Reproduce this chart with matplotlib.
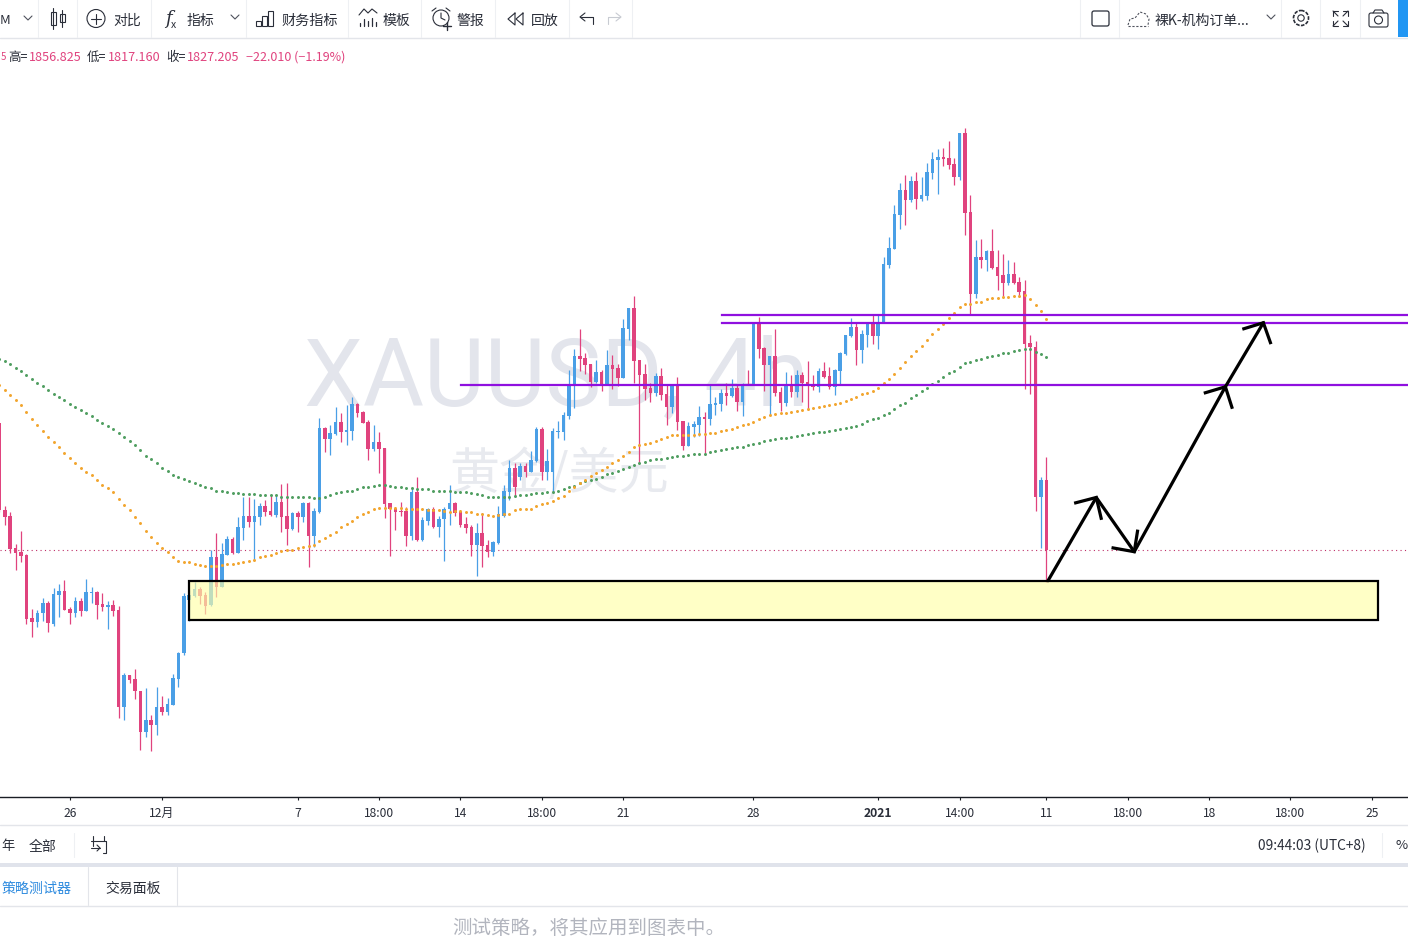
import matplotlib
matplotlib.use("Agg")
import matplotlib.pyplot as plt
from matplotlib.patches import Rectangle, Circle, FancyBboxPatch
import numpy as np

plt.rcParams['font.family'] = ['Noto Sans CJK SC', 'DejaVu Sans']

# XAUUSD 4h candles
opens = [
    1867.5,1839.9,1838.0,1827.8,1826.6,1825.6,1805.6,1804.4,1807.2,1810.4,
    1803.7,1812.9,1814.2,1808.5,1807.2,1811.0,1807.9,1813.6,1813.9,1810.1,
    1809.1,1809.7,1808.2,1777.4,1787.5,1786.3,1782.5,1769.5,1773.3,1771.7,
    1777.4,1775.8,1778.0,1786.3,1794.5,1811.3,1812.6,1814.8,1812.9,1809.7,
    1825.0,1815.5,1825.6,1830.7,1826.2,1834.2,1838.0,1836.1,1837.7,1841.2,
    1839.6,1838.3,1842.4,1838.0,1833.9,1838.9,1837.7,1842.1,1831.6,1839.3,
    1865.9,1862.4,1864.0,1867.8,1864.6,1865.0,1873.5,1871.0,1867.8,1859.2,
    1861.5,1859.6,1842.1,1840.2,1839.6,1839.6,1831.6,1845.6,1830.4,1836.4,
    1840.2,1834.5,1837.0,1840.2,1842.1,1839.3,1835.4,1834.5,1828.8,1832.6,
    1828.8,1826.6,1829.4,1838.0,1845.6,1853.2,1850.4,1853.9,1852.0,1855.4,
    1865.6,1852.0,1852.0,1864.6,1864.6,1869.7,1879.6,1888.8,1888.1,1886.2,
    1880.5,1883.7,1879.6,1885.9,1884.9,1881.8,1897.3,1904.0,1887.5,1883.0,
    1878.6,1877.0,1882.4,1876.7,1872.6,1879.6,1868.1,1860.2,1866.2,1866.9,
    1869.4,1868.8,1873.2,1873.5,1877.0,1876.1,1878.6,1874.2,1879.9,1879.6,
    1899.2,1891.3,1885.9,1888.8,1877.3,1873.8,1879.2,1877.3,1882.7,1880.5,
    1879.9,1878.9,1884.0,1882.4,1878.9,1884.0,1889.4,1895.1,1898.0,1890.7,
    1895.4,1899.2,1895.1,1899.2,1917.6,1922.7,1933.5,1941.4,1938.3,1944.3,
    1938.6,1939.5,1946.8,1951.0,1951.9,1951.6,1949.7,1945.6,1959.5,1934.4,
    1908.4,1920.2,1919.2,1922.1,1917.0,1914.4,1911.9,1914.8,1912.2,1909.4,
    1892.9,1891.6,1844.0,1849.4]
highs = [
    1867.5,1841.2,1839.3,1829.1,1833.2,1825.9,1808.5,1808.2,1812.0,1811.0,
    1815.1,1816.4,1817.7,1809.1,1812.3,1812.0,1818.0,1815.5,1814.2,1813.6,
    1811.0,1811.3,1809.4,1788.2,1787.5,1789.4,1782.5,1783.4,1774.8,1783.7,
    1780.9,1780.2,1787.8,1794.8,1813.6,1814.5,1817.1,1815.5,1813.9,1827.2,
    1832.6,1829.4,1831.6,1831.3,1837.7,1844.0,1844.0,1843.4,1842.1,1843.1,
    1844.6,1844.6,1848.1,1848.5,1839.3,1839.6,1842.4,1842.4,1840.5,1869.1,
    1866.2,1866.9,1872.6,1870.7,1873.2,1875.7,1873.8,1871.3,1868.4,1866.9,
    1864.6,1859.6,1842.1,1840.8,1842.4,1840.8,1846.9,1850.4,1837.7,1840.5,
    1840.8,1838.0,1840.8,1847.8,1842.4,1839.9,1837.7,1835.1,1835.8,1838.9,
    1830.4,1830.1,1841.2,1847.8,1855.8,1854.8,1854.8,1854.8,1858.6,1866.2,
    1866.2,1859.2,1865.9,1868.1,1871.0,1884.3,1891.0,1897.3,1889.7,1886.2,
    1887.5,1884.3,1890.7,1889.1,1886.2,1900.5,1904.0,1907.8,1887.5,1886.2,
    1880.2,1883.4,1884.9,1879.6,1879.6,1882.1,1868.1,1867.8,1868.1,1872.9,
    1871.0,1879.6,1875.7,1878.3,1880.2,1881.5,1879.6,1880.2,1884.3,1899.5,
    1901.1,1891.6,1888.8,1897.3,1878.9,1883.7,1882.7,1884.3,1883.7,1887.2,
    1882.7,1885.0,1886.9,1885.3,1884.6,1890.0,1895.4,1900.8,1899.2,1897.0,
    1899.5,1901.8,1901.8,1920.2,1926.5,1936.7,1943.6,1946.2,1945.9,1947.2,
    1945.6,1950.0,1953.5,1954.4,1954.7,1957.0,1951.6,1959.5,1961.1,1939.8,
    1925.6,1925.9,1922.4,1929.0,1922.4,1921.1,1919.2,1918.6,1913.8,1912.9,
    1895.4,1893.5,1850.4,1856.825]
lows = [
    1839.3,1835.1,1826.2,1820.9,1823.4,1803.7,1799.6,1802.8,1804.7,1801.2,
    1803.1,1806.0,1808.2,1803.7,1806.0,1806.3,1807.9,1810.4,1805.3,1807.9,
    1802.1,1806.3,1773.9,1773.3,1785.0,1779.9,1763.7,1767.9,1763.4,1768.5,
    1774.8,1774.8,1778.0,1783.7,1793.9,1804.7,1812.3,1810.1,1806.9,1809.4,
    1812.3,1815.5,1825.6,1825.9,1826.2,1830.4,1834.5,1824.0,1835.1,1838.0,
    1838.0,1837.7,1832.9,1828.8,1833.5,1832.9,1836.1,1821.8,1828.2,1838.9,
    1858.3,1857.3,1863.7,1861.5,1860.5,1862.1,1869.4,1867.5,1855.8,1858.6,
    1851.6,1837.4,1825.3,1833.5,1838.0,1828.5,1830.4,1830.1,1830.1,1835.1,
    1834.2,1831.3,1823.7,1835.1,1838.0,1834.5,1832.6,1825.3,1819.0,1821.8,
    1825.0,1825.3,1829.1,1837.7,1843.1,1844.0,1849.4,1850.4,1852.0,1855.1,
    1849.4,1849.4,1845.3,1862.7,1862.1,1868.8,1872.3,1884.0,1883.0,1878.9,
    1880.2,1877.7,1879.6,1878.3,1879.2,1881.8,1893.8,1880.2,1854.8,1874.8,
    1874.2,1876.1,1874.8,1866.9,1870.7,1865.3,1858.9,1860.2,1863.1,1863.4,
    1857.3,1866.9,1870.0,1871.3,1873.2,1875.8,1871.3,1869.7,1879.6,1879.6,
    1888.1,1877.7,1870.0,1876.1,1871.3,1872.9,1875.8,1875.8,1874.2,1871.6,
    1878.0,1877.3,1881.8,1878.3,1876.4,1879.6,1889.1,1894.8,1885.9,1886.5,
    1891.6,1892.6,1891.0,1899.2,1916.7,1922.7,1929.0,1930.3,1937.6,1935.4,
    1937.9,1938.3,1944.9,1940.2,1949.0,1948.1,1943.0,1944.6,1927.1,1902.1,
    1907.2,1916.7,1915.7,1916.4,1909.7,1907.8,1911.3,1911.6,1907.5,1878.3,
    1876.7,1839.6,1827.8,1817.16]
closes = [
    1839.9,1837.7,1827.5,1826.2,1825.3,1805.3,1804.4,1807.2,1810.4,1804.0,
    1813.2,1814.2,1808.2,1807.2,1811.0,1807.9,1813.9,1813.9,1809.7,1809.1,
    1809.7,1807.9,1777.4,1787.5,1786.0,1782.5,1769.5,1773.3,1771.7,1777.4,
    1775.8,1778.3,1786.6,1794.5,1812.6,1812.9,1814.8,1812.6,1809.4,1825.0,
    1815.5,1825.9,1830.7,1826.2,1834.5,1838.0,1836.1,1838.0,1841.2,1839.3,
    1838.3,1842.4,1837.7,1833.9,1838.9,1837.7,1842.1,1831.6,1839.6,1865.9,
    1862.4,1864.3,1867.8,1864.6,1865.3,1873.5,1870.7,1867.5,1859.2,1861.5,
    1859.2,1841.8,1840.2,1839.3,1839.3,1831.6,1845.6,1830.4,1836.7,1840.2,
    1834.5,1837.0,1840.2,1842.1,1838.9,1835.1,1834.2,1828.8,1832.6,1828.5,
    1826.6,1829.7,1838.6,1845.9,1853.2,1847.2,1853.9,1852.0,1855.8,1865.6,
    1852.0,1855.4,1865.0,1865.0,1870.0,1879.6,1888.8,1887.8,1885.9,1880.5,
    1883.7,1879.6,1885.9,1884.6,1881.8,1897.6,1904.0,1887.2,1882.7,1878.3,
    1877.0,1882.4,1876.4,1872.6,1879.6,1867.8,1860.2,1866.6,1867.2,1869.4,
    1868.8,1873.5,1873.8,1877.0,1876.1,1878.6,1874.2,1879.6,1879.6,1899.2,
    1891.0,1885.9,1888.8,1877.0,1873.8,1879.2,1877.3,1882.7,1880.2,1879.6,
    1878.9,1884.0,1882.1,1878.9,1884.3,1889.7,1895.4,1898.0,1890.7,1895.7,
    1899.2,1895.1,1899.2,1917.9,1923.0,1933.8,1941.4,1938.3,1944.3,1938.6,
    1939.8,1947.2,1951.3,1951.9,1951.3,1949.4,1945.6,1959.5,1934.1,1908.4,
    1920.2,1919.2,1922.1,1916.7,1914.1,1911.9,1914.8,1911.9,1909.1,1892.6,
    1891.6,1844.0,1849.4,1827.205]

# the two dotted moving averages, one value per bar
ma_green = [
    1887.7,1887.2,1886.1,1884.9,1883.9,1882.6,1881.4,1880.1,1879.1,1877.9,
    1876.6,1875.7,1874.7,1873.4,1872.5,1871.5,1870.6,1869.6,1868.4,1867.4,
    1866.5,1865.5,1864.2,1863.0,1861.7,1860.4,1858.8,1857.2,1856.0,1854.7,
    1853.4,1852.2,1850.9,1850.3,1849.6,1849.0,1848.4,1847.7,1847.1,1846.8,
    1846.1,1845.8,1845.5,1845.2,1845.2,1844.9,1844.9,1844.9,1844.6,1844.6,
    1844.6,1844.6,1844.2,1844.2,1844.2,1843.9,1843.9,1843.9,1843.6,1843.7,
    1844.2,1844.6,1845.2,1845.5,1845.8,1846.1,1846.5,1847.1,1847.1,1847.4,
    1847.7,1847.7,1847.4,1847.1,1847.1,1846.8,1846.8,1846.5,1846.5,1846.5,
    1846.1,1845.8,1845.8,1845.8,1845.5,1845.5,1845.5,1845.2,1844.9,1844.6,
    1844.2,1843.9,1844.1,1844.0,1844.1,1844.3,1844.6,1844.6,1845.0,1845.2,
    1845.2,1845.5,1845.7,1846.0,1846.5,1847.1,1847.5,1848.4,1849.2,1849.4,
    1849.9,1850.5,1851.2,1851.5,1852.3,1852.9,1853.6,1854.3,1854.7,1855.2,
    1855.7,1856.0,1856.2,1856.5,1856.7,1856.9,1857.1,1857.3,1857.6,1857.6,
    1857.8,1858.2,1858.6,1858.9,1859.2,1859.6,1859.8,1860.0,1860.4,1860.8,
    1861.2,1861.9,1862.2,1862.4,1862.6,1862.7,1863.1,1863.4,1863.7,1864.0,
    1864.2,1864.5,1864.7,1865.0,1865.3,1865.6,1865.9,1866.2,1866.7,1867.3,
    1868.0,1868.7,1869.2,1869.9,1870.8,1871.8,1873.1,1873.9,1875.3,1876.3,
    1877.6,1878.5,1879.8,1880.9,1882.0,1883.3,1884.1,1885.4,1886.4,1886.8,
    1887.5,1887.7,1888.3,1888.7,1889.1,1889.6,1889.8,1890.4,1890.7,1890.9,
    1890.9,1890.1,1889.3,1888.3]
ma_orange = [
    1879.7,1877.9,1876.3,1874.7,1873.1,1870.9,1868.7,1866.8,1864.9,1863.0,
    1861.4,1859.8,1857.9,1856.3,1854.7,1853.4,1851.9,1850.9,1849.3,1848.0,
    1846.8,1845.5,1843.3,1841.4,1839.8,1837.8,1835.7,1833.3,1831.4,1829.6,
    1827.9,1826.7,1824.9,1823.9,1823.5,1823.3,1822.9,1822.5,1822.3,1822.3,
    1822.3,1822.4,1822.7,1822.8,1823.0,1823.5,1823.8,1824.2,1824.9,1825.3,
    1825.7,1826.3,1826.8,1827.1,1827.4,1827.8,1828.2,1828.6,1828.8,1830.1,
    1830.9,1832.0,1833.1,1834.4,1835.4,1836.5,1837.6,1838.5,1839.3,1840.1,
    1840.7,1840.7,1840.7,1840.7,1840.7,1840.4,1840.2,1840.2,1840.1,1839.9,
    1839.9,1839.8,1839.6,1839.4,1839.7,1839.7,1839.4,1839.2,1838.8,1838.5,
    1838.3,1837.9,1838.2,1838.6,1838.8,1839.9,1840.1,1840.2,1840.4,1841.2,
    1841.7,1842.2,1842.8,1843.6,1844.4,1845.9,1847.3,1848.4,1849.4,1850.7,
    1851.7,1852.6,1853.6,1854.7,1855.8,1857.0,1858.4,1859.8,1860.5,1860.8,
    1861.2,1861.9,1862.4,1863.1,1863.6,1863.8,1863.7,1863.7,1863.8,1863.9,
    1864.0,1864.2,1864.4,1865.1,1865.3,1865.7,1866.1,1866.9,1867.2,1867.9,
    1868.8,1869.4,1870.0,1870.4,1870.6,1870.8,1871.0,1871.3,1871.6,1872.0,
    1872.4,1872.7,1872.9,1873.1,1873.5,1874.0,1874.6,1875.2,1875.8,1876.7,
    1877.1,1877.7,1878.6,1880.1,1881.4,1882.9,1884.9,1886.8,1888.7,1890.3,
    1891.8,1893.8,1895.6,1897.2,1898.9,1900.7,1902.5,1904.2,1905.2,1905.2,
    1905.8,1906.0,1906.7,1907.1,1907.3,1907.4,1907.6,1907.7,1907.8,1908.2,
    1906.8,1904.8,1903.0,1900.4]

# drawn levels, demand zone and the forecast path (bar number, price)
levels = [1901.8, 1899.2, 1879.6]
level_starts = [133.2, 133.2, 85.1]
zone_bars = [35.04, 254.2]
zone_prices = [1805.0, 1817.4]
path_bars = [193.3, 202.2, 209.2, 226.0, 233.0]
path_prices = [1817.5, 1843.9, 1826.7, 1879.0, 1899.3]
# each arrow head: left barb, tip, right barb
head_bars = [[198.4, 202.2, 203.1], [205.3, 209.2, 209.8], [222.3, 226.0, 227.2], [229.4, 233.0, 234.3]]
head_prices = [[1842.2, 1843.9, 1837.3], [1827.9, 1826.7, 1833.2], [1877.1, 1879.0, 1872.5], [1897.4, 1899.3, 1893.0]]

tick_bars = [13, 30, 55, 70, 85, 100, 115, 139, 162, 177, 193, 208, 223, 238, 253]
tick_labels = ['26', '12月', '7', '18:00', '14', '18:00', '21', '28', '2021', '14:00', '11', '18:00', '18', '18:00', '25']

BLUE = '#4A9FE6'
PINK = '#E0437E'
TXT = '#2A2E39'
LINE = '#E3E5EA'
W, H = 1408, 937

fig = plt.figure(figsize=(W / 100, H / 100), dpi=100)
fig.patch.set_facecolor('white')

# page chrome, in pixels
ui = fig.add_axes([0, 0, 1, 1], zorder=0)
ui.set_xlim(0, W)
ui.set_ylim(H, 0)
ui.axis('off')


def seg(xs, ys, color=TXT, lw=0.8):
    ui.plot(xs, ys, color=color, lw=lw, solid_capstyle='round')


def chevron(x, y):
    seg([x - 4, x, x + 4], [y - 2, y + 2, y - 2], '#50535E', 0.8)


# toolbar
seg([0, W], [38.5, 38.5], LINE, 1)
for x in [38, 77, 151, 246, 348, 421, 495, 569, 632, 1080, 1119, 1281, 1320, 1360]:
    seg([x, x], [0, 38], '#EEF0F3', 0.8)
ui.add_patch(Rectangle((1398, 0), 10, 38, color='#2196F3', lw=0))

ui.text(0, 21, 'M', fontsize=9.5, color=TXT, va='center')
chevron(28, 19)
# candle icon
for x, t, b, t2, b2 in [(53, 9, 30, 13, 26), (62, 11, 28, 15, 23)]:
    seg([x, x], [t, b], TXT, 0.8)
    ui.add_patch(Rectangle((x - 2.5, t2), 5, b2 - t2, fill=False, ec=TXT, lw=0.8))
# compare icon
ui.add_patch(Circle((96, 19.5), 9, fill=False, ec=TXT, lw=0.8))
seg([91, 101], [19.5, 19.5])
seg([96, 96], [14.5, 24.5])
ui.text(113, 21, '对比', fontsize=10, color=TXT, va='center')
# indicators icon
ui.text(165, 19, 'f', fontsize=13, style='italic', family='DejaVu Serif', color=TXT, va='center')
ui.text(171, 25, 'x', fontsize=7.5, color=TXT, va='center')
ui.text(187, 21, '指标', fontsize=10, color=TXT, va='center')
chevron(235, 18)
# financials icon
for x, t in [(256, 22), (262, 17), (268, 12)]:
    ui.add_patch(Rectangle((x, t), 5, 27 - t, fill=False, ec=TXT, lw=0.8))
ui.text(281, 21, '财务指标', fontsize=10.2, color=TXT, va='center')
# template icon
seg([359, 364, 368, 372, 377], [16, 10, 14, 10, 14], TXT, 0.8)
for x, t in [(360, 24), (364, 20), (368, 22), (372, 19), (376, 23)]:
    seg([x, x], [t, 27], TXT, 0.9)
ui.text(383, 21, '模板', fontsize=10, color=TXT, va='center')
# alert icon
ui.add_patch(Circle((441, 19), 8, fill=False, ec=TXT, lw=0.8))
seg([441, 441, 445], [14, 19, 21])
seg([432, 436], [12, 9])
seg([446, 450], [9, 12])
seg([443, 451], [27, 27], TXT, 1)
seg([447, 447], [23, 31], TXT, 1)
ui.text(457, 21, '警报', fontsize=10, color=TXT, va='center')
# replay icon
seg([515, 508, 515, 515], [14, 20, 26, 14])
seg([523, 516, 523, 523], [14, 20, 26, 14])
ui.text(531, 21, '回放', fontsize=10, color=TXT, va='center')
# undo, redo
seg([593, 593, 581], [25, 18, 18], TXT, 0.8)
seg([585, 580, 585], [14, 18, 22], TXT, 0.8)
seg([608, 608, 620], [25, 18, 18], '#C8CBD2', 0.8)
seg([616, 621, 616], [14, 18, 22], '#C8CBD2', 0.8)

# right of toolbar
ui.add_patch(FancyBboxPatch((1092, 12), 17, 15, boxstyle='round,pad=0,rounding_size=2', fill=False, ec=TXT, lw=0.9))
cloud_x = [1128, 1130, 1135, 1140, 1146, 1149, 1148]
cloud_y = [26, 20, 19, 13, 15, 20, 26]
ui.plot(cloud_x, cloud_y, color='#50535E', lw=0.8, ls=(0, (2, 1.5)))
ui.plot([1128, 1148], [27, 27], color='#50535E', lw=0.8, ls=(0, (2, 1.5)))
ui.text(1155, 21, '裸K-机构订单...', fontsize=10, color=TXT, va='center')
chevron(1271, 18)
# gear
ui.add_patch(Circle((1301, 19), 3.2, fill=False, ec=TXT, lw=0.8))
ui.add_patch(Circle((1301, 19), 7.5, fill=False, ec=TXT, lw=1.2, ls=(0, (2.2, 0.8))))
# fullscreen corners
for cx, cy, dx, dy in [(1333, 12, 1, 1), (1348, 12, -1, 1), (1333, 27, 1, -1), (1348, 27, -1, -1)]:
    seg([cx, cx, cx + 5 * dx], [cy + 5 * dy, cy, cy], TXT, 0.8)
    seg([cx, cx + 5 * dx], [cy, cy + 5 * dy], TXT, 0.8)
# camera
ui.add_patch(FancyBboxPatch((1369, 14), 19, 14, boxstyle='round,pad=0,rounding_size=2', fill=False, ec=TXT, lw=0.8))
seg([1373, 1375, 1382, 1384], [14, 11, 11, 14], TXT, 0.8)
ui.add_patch(Circle((1378.5, 21), 4, fill=False, ec=TXT, lw=0.8))

# OHLC header
hdr = 57.5
for x, s, c, fs in [(0.5, '5', PINK, 7), (8, '高=', TXT, 9), (29, '1856.825', PINK, 9.1), (87, '低=', TXT, 9),
                    (108, '1817.160', PINK, 9.1), (166, '收=', TXT, 9), (187, '1827.205', PINK, 9.1),
                    (246, '−22.010 (−1.19%)', PINK, 9)]:
    ui.text(x, hdr, s, fontsize=fs, color=c, va='center')

# watermark
ui.text(304, 405, 'XAUUSD, 4h', fontsize=67.5, family='Roboto', color='#E3E5EC', va='baseline')
ui.text(449, 475, '黄金/美元', fontsize=36, color='#E8EAEF', va='center')

# bottom strips
seg([0, W], [825.5, 825.5], LINE, 1)
ui.text(1, 847, '年', fontsize=9.5, color=TXT, va='center')
ui.text(29, 847, '全部', fontsize=10, color=TXT, va='center')
seg([74, 74], [834, 858], '#EEF0F3', 0.8)
seg([91, 106, 106, 103], [842, 842, 854, 854], TXT, 0.8)
seg([93, 93], [837, 847], TXT, 0.8)
seg([104, 104], [837, 842], TXT, 0.8)
seg([91, 100], [849, 849], TXT, 0.8)
seg([97, 100, 97], [846, 849, 852], TXT, 0.8)
ui.text(1258, 846, '09:44:03 (UTC+8)', fontsize=9.9, color=TXT, va='center')
seg([1382, 1382], [834, 858], '#EEF0F3', 0.8)
ui.text(1395, 846, '%', fontsize=9.5, color=TXT, va='center')
ui.add_patch(Rectangle((0, 864), W, 4, color='#E0E3EB', lw=0))
seg([0, W], [906.5, 906.5], LINE, 1)
seg([87.5, 87.5], [868, 906], LINE, 0.8)
seg([176.5, 176.5], [868, 906], LINE, 0.8)
ui.text(2, 889, '策略测试器', fontsize=10.1, color='#2E8BDF', va='center')
ui.text(105, 889, '交易面板', fontsize=10, color=TXT, va='center')
ui.text(452, 929, '测试策略\uff0c将其应用到图表中。', fontsize=14, color='#B2B5BE', va='center')

# price chart
ax = fig.add_axes([0, (H - 797.5) / H, 1, (797.5 - 39) / H], zorder=1)
ax.patch.set_alpha(0)
ax.set_xlim(0.12, 259.66)
ax.set_ylim(1749.08, 1989.59)

bars = np.arange(len(closes))
o = np.array(opens)
c = np.array(closes)
colors = [BLUE if a >= b else PINK for a, b in zip(c, o)]

ax.axhline(closes[-1], color='#BE2F68', lw=0.8, ls=(0, (1, 3)), zorder=1)
ax.vlines(bars, lows, highs, colors=colors, lw=0.9, zorder=2)
ax.bar(bars, np.abs(c - o), bottom=np.minimum(o, c), width=0.66, color=colors, lw=0, zorder=2)
ax.scatter(bars, ma_green, s=4.6, color='#4F9E60', lw=0, zorder=3)
ax.scatter(bars, ma_orange, s=4.6, color='#F2A52E', lw=0, zorder=3)

for start, lvl in zip(level_starts, levels):
    ax.plot([start, ax.get_xlim()[1]], [lvl, lvl], color='#8F10DF', lw=1.6, zorder=4)

ax.add_patch(Rectangle((zone_bars[0], zone_prices[0]), zone_bars[1] - zone_bars[0], zone_prices[1] - zone_prices[0],
                       facecolor=(1, 1, 0.66, 0.65), edgecolor='black', lw=1.6, zorder=5))

ax.plot(path_bars, path_prices, color='black', lw=2.3, solid_capstyle='round', zorder=6)
for hb, hp in zip(head_bars, head_prices):
    ax.plot(hb, hp, color='black', lw=2.3, solid_joinstyle='miter', zorder=6)

for side in ['top', 'left', 'right']:
    ax.spines[side].set_visible(False)
ax.spines['bottom'].set_color('#1A1D24')
ax.spines['bottom'].set_linewidth(1)
ax.set_yticks([])
ax.set_xticks(tick_bars)
ax.set_xticklabels(tick_labels, fontsize=8.7, color=TXT)
ax.tick_params(axis='x', length=2.5, width=0.8, pad=4.2, color='#1A1D24')
for lab in ax.get_xticklabels():
    if lab.get_text() == '2021':
        lab.set_fontweight('bold')

fig.savefig('out.png', dpi=100)
